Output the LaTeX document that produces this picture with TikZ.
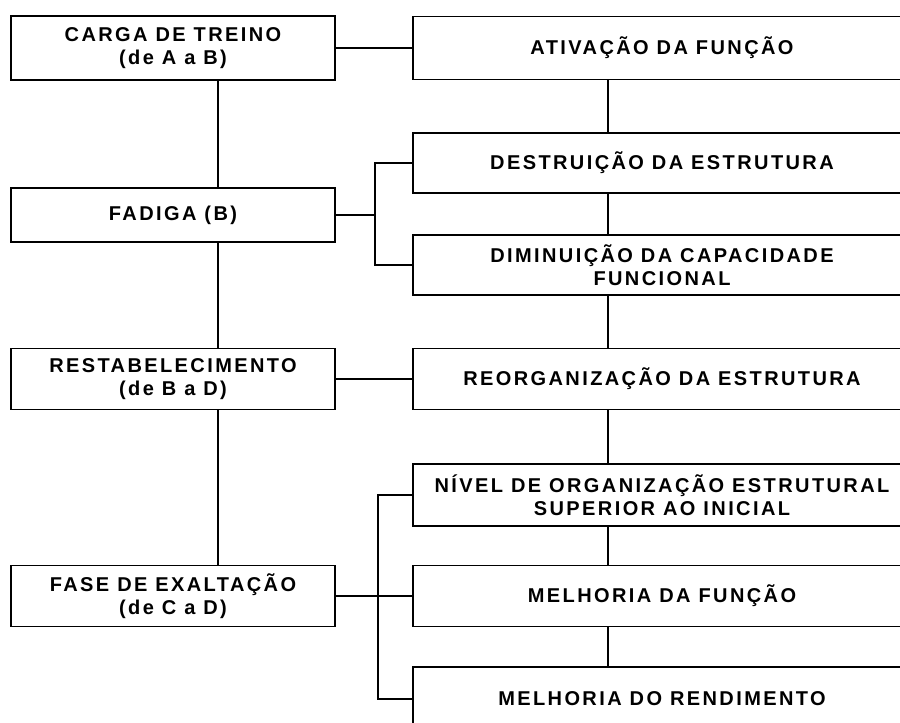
\documentclass[tikz,border=0pt]{standalone}
\usepackage{fontspec}
\newfontfamily\boxfont{Liberation Sans}[LetterSpace=12]
\begin{document}
\begin{tikzpicture}[x=1pt,y=-1pt,line width=1.1pt,
  lbox/.style={draw,align=center,minimum width=324pt,minimum height=61pt,inner sep=2pt},
  rbox/.style={draw,align=center,minimum width=498pt,minimum height=61pt,inner sep=2pt},
  every node/.append style={font=\boxfont\bfseries\fontsize{20}{23.5}\selectfont}]
\useasboundingbox (0,0) rectangle (900,723);
\fill[white] (0,0) rectangle (900,723);
\clip (0,0) rectangle (900,723);

\coordinate (lx) at (218,0);
\coordinate (rx) at (608,0);

\node[lbox,minimum height=64pt] (carga) at (173,48) {CARGA DE TREINO\\(de A a B)};
\node[lbox,minimum height=54pt] (fadiga) at (173,215) {FADIGA (B)};
\node[lbox] (restab) at (173,379) {RESTABELECIMENTO\\(de B a D)};
\node[lbox] (fase) at (173,596) {FASE DE EXALTAÇÃO\\(de C a D)};

\node[rbox,minimum height=63pt] (ativ) at (662,48) {ATIVAÇÃO DA FUNÇÃO};
\node[rbox,minimum height=60pt] (destr) at (662,163) {DESTRUIÇÃO DA ESTRUTURA};
\node[rbox,minimum height=60pt] (dimin) at (662,265) {DIMINUIÇÃO DA CAPACIDADE\\FUNCIONAL};
\node[rbox] (reorg) at (662,379) {REORGANIZAÇÃO DA ESTRUTURA};
\node[rbox,minimum height=62pt] (nivel) at (662,495) {NÍVEL DE ORGANIZAÇÃO ESTRUTURAL\\SUPERIOR AO INICIAL};
\node[rbox] (melfun) at (662,596) {MELHORIA DA FUNÇÃO};
\node[rbox,minimum height=64pt] (melren) at (662,699) {MELHORIA DO RENDIMENTO};

\draw (carga.south -| lx) -- (fadiga.north -| lx);
\draw (fadiga.south -| lx) -- (restab.north -| lx);
\draw (restab.south -| lx) -- (fase.north -| lx);

\draw (ativ.south -| rx) -- (destr.north -| rx);
\draw (destr.south -| rx) -- (dimin.north -| rx);
\draw (dimin.south -| rx) -- (reorg.north -| rx);
\draw (reorg.south -| rx) -- (nivel.north -| rx);
\draw (nivel.south -| rx) -- (melfun.north -| rx);
\draw (melfun.south -| rx) -- (melren.north -| rx);

\draw (carga.east) -- (ativ.west);
\draw (restab.east) -- (reorg.west);
\draw (fase.east) -- (melfun.west);

% brackets
\coordinate (fb) at (375,215);
\draw (fadiga.east) -- (fb);
\draw (destr.west) -| (fb) |- (dimin.west);
\coordinate (eb) at (378,596);
\draw (nivel.west) -| (eb) |- (melren.west);
\end{tikzpicture}
\end{document}
